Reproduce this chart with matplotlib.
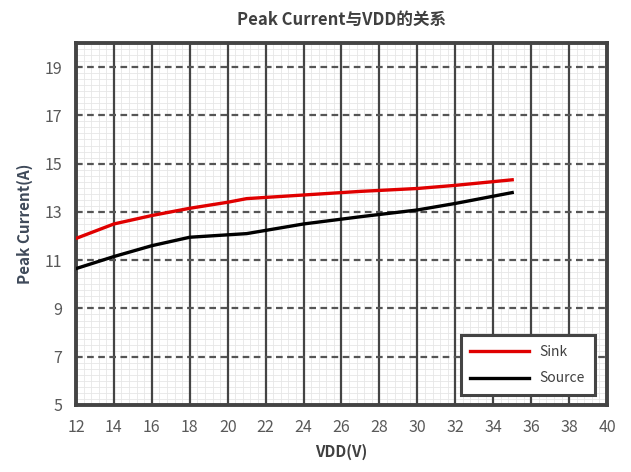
import matplotlib.pyplot as plt
from matplotlib.ticker import MultipleLocator

plt.rcParams['font.family'] = ['Noto Sans CJK SC', 'DejaVu Sans']

vdd = [12, 14, 16, 18, 20, 21, 24, 27, 30, 32, 35]
sink = [11.9, 12.5, 12.85, 13.15, 13.4, 13.55, 13.7, 13.85, 13.97, 14.1, 14.33]
source = [10.65, 11.15, 11.6, 11.95, 12.05, 12.1, 12.5, 12.8, 13.08, 13.35, 13.8]
x_ticks = list(range(12, 41, 2))
y_ticks = list(range(5, 20, 2))

fig = plt.figure(figsize=(6.31, 4.72), dpi=100)
ax = fig.add_axes([0.1204, 0.142, 0.8416, 0.767])

ax.plot(vdd, sink, color='#e00000', lw=2.4, label='Sink', zorder=5)
ax.plot(vdd, source, color='black', lw=2.4, label='Source', zorder=5)

ax.set_xlim(12, 40)
ax.set_ylim(5, 20)
ax.set_xticks(x_ticks)
ax.set_yticks(y_ticks)
ax.xaxis.set_minor_locator(MultipleLocator(0.4))
ax.yaxis.set_minor_locator(MultipleLocator(0.25))

# fine background grid, then solid verticals and dashed horizontals on top
ax.grid(which='minor', color='#e6e6e6', lw=0.6)
ax.set_axisbelow(True)
for x in x_ticks:
    ax.axvline(x, color='#444444', lw=1.6, zorder=1)
for y in y_ticks:
    ax.axhline(y, color='#555555', lw=1.6, ls=(0, (3, 2)), zorder=1.1)

for s in ax.spines.values():
    s.set_color('#444444')
    s.set_linewidth(2.8)

ax.tick_params(which='both', length=0, pad=10, labelsize=11.5, labelcolor='#595959')

ax.set_title('Peak Current与VDD的关系', fontsize=12, fontweight='bold', color='#404040', pad=13)
ax.set_xlabel('VDD(V)', fontsize=11, fontweight='bold', color='#404040', labelpad=6)
ax.set_ylabel('Peak Current(A)', fontsize=11, fontweight='bold', color='#3f4a5a', labelpad=8)

leg = ax.legend(loc='lower right', bbox_to_anchor=(0.977, 0.027), borderaxespad=0,
                fontsize=10, frameon=True, fancybox=False, handlelength=4.2,
                labelspacing=0.9, borderpad=0.7, labelcolor='#404040')
leg.get_frame().set_edgecolor('#444444')
leg.get_frame().set_linewidth(2.2)
leg.get_frame().set_alpha(1)
leg.set_zorder(6)

fig.savefig('out.png', dpi=100)
